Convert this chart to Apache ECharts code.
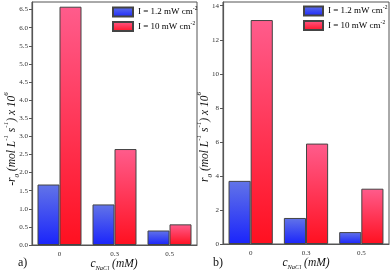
<!DOCTYPE html>
<html><head><meta charset="utf-8">
<script src="https://cdn.jsdelivr.net/npm/echarts@6/dist/echarts.min.js"></script>
<style>html,body{margin:0;padding:0;background:#fff}#c{width:390px;height:273px}</style>
</head><body><div id="c"></div>
<script>
var categories = ['0', '0.3', '0.5'];
var seriesNames = ['I = 1.2 mW cm', 'I = 10 mW cm'];
var leftLow = [1.67, 1.12, 0.40];
var leftHigh = [6.58, 2.65, 0.57];
var rightLow = [3.71, 1.53, 0.70];
var rightHigh = [13.16, 5.90, 3.25];

var serif = 'Liberation Serif';
var blueGrad = {type:'linear',x:0,y:0,x2:0,y2:1,colorStops:[{offset:0,color:'#6274e8'},{offset:1,color:'#1a24fb'}]};
var redGrad = {type:'linear',x:0,y:0,x2:0,y2:1,colorStops:[{offset:0,color:'#ff5c8c'},{offset:1,color:'#ff1020'}]};
var lowStyle = {color: blueGrad, borderColor:'#444', borderWidth:1};
var highStyle = {color: redGrad, borderColor:'#444', borderWidth:1};

var nameRich = {
  t:{fontFamily:serif,fontStyle:'italic',fontSize:11.5,fill:'#111',lineHeight:18},
  sub:{fontFamily:serif,fontStyle:'italic',fontSize:7,fill:'#111',verticalAlign:'bottom'},
  sup:{fontFamily:serif,fontStyle:'italic',fontSize:7,fill:'#111',verticalAlign:'top'}
};
var xNameRich = {
  t:{fontFamily:serif,fontStyle:'italic',fontSize:11.5,fill:'#111',lineHeight:16},
  sub:{fontFamily:serif,fontStyle:'italic',fontSize:6.5,fill:'#111',verticalAlign:'bottom'}
};
var legendRich = {
  a:{fontFamily:serif,fontSize:9,color:'#000',lineHeight:12},
  s:{fontFamily:serif,fontSize:5.5,color:'#000',verticalAlign:'top'}
};

function xAx(gi){
  return {type:'category',gridIndex:gi,data:categories,
    axisLine:{lineStyle:{color:'#555',width:1.2}},
    axisTick:{alignWithLabel:true,length:3,lineStyle:{color:'#555'}},
    axisLabel:{fontFamily:serif,fontSize:7,color:'#333',margin:6}};
}
function yAx(gi,max,interval){
  return {type:'value',gridIndex:gi,min:0,max:max,interval:interval,
    axisLine:{show:true,lineStyle:{color:'#555',width:1.2}},
    axisTick:{show:true,length:3,lineStyle:{color:'#555'}},
    splitLine:{show:false},
    axisLabel:{fontFamily:serif,fontSize:7,color:'#333',margin:4,showMaxLabel:false,
      formatter:function(v){return interval<1? v.toFixed(1): String(v);}}};
}
function legendFmt(name){ return '{a|'+name+'}{s|-2}'; }
function title(x,y,rot,txt,rich){
  return {type:'text',x:x,y:y,rotation:rot,
    style:{text:txt,rich:rich,align:'center',verticalAlign:'middle',fill:'#111'}};
}

var chart = echarts.init(document.getElementById('c'));
chart.setOption({
  animation:false,
  grid:[
    {left:32,top:2,width:165,height:243,show:true,borderColor:'#555',borderWidth:1,outerBoundsMode:'none',containLabel:false},
    {left:223,top:2,width:166,height:242,show:true,borderColor:'#555',borderWidth:1,outerBoundsMode:'none',containLabel:false}
  ],
  xAxis:[xAx(0),xAx(1)],
  yAxis:[yAx(0,6.71,0.5), yAx(1,14.22,2)],
  legend:[
    {left:112,top:6,orient:'vertical',icon:'rect',itemWidth:20,itemHeight:9,itemGap:3,
     data:seriesNames,formatter:legendFmt,textStyle:{rich:legendRich},selectedMode:false,padding:0},
    {left:303,top:5,orient:'vertical',icon:'rect',itemWidth:19,itemHeight:9,itemGap:3,
     data:seriesNames,formatter:legendFmt,textStyle:{rich:legendRich},selectedMode:false,padding:0}
  ],
  series:[
    {type:'bar',name:seriesNames[0],xAxisIndex:0,yAxisIndex:0,data:leftLow,itemStyle:lowStyle,barGap:'0%',barCategoryGap:'20%'},
    {type:'bar',name:seriesNames[1],xAxisIndex:0,yAxisIndex:0,data:leftHigh,itemStyle:highStyle,barGap:'0%',barCategoryGap:'20%'},
    {type:'bar',name:seriesNames[0],xAxisIndex:1,yAxisIndex:1,data:rightLow,itemStyle:lowStyle,barGap:'0%',barCategoryGap:'20%'},
    {type:'bar',name:seriesNames[1],xAxisIndex:1,yAxisIndex:1,data:rightHigh,itemStyle:highStyle,barGap:'0%',barCategoryGap:'20%'}
  ],
  graphic:[
    title(12,139,Math.PI/2,'{t|-r}{sub|0}{t| (mol L}{sup|-1}{t| s}{sup|-1}{t|) x 10}{sup|6}',nameRich),
    title(205,137,Math.PI/2,'{t|r}{sub|0}{t| (mol L}{sup|-1}{t| s}{sup|-1}{t|) x 10}{sup|6}',nameRich),
    title(114,264,0,'{t|c}{sub|NaCl}{t| (mM)}',xNameRich),
    title(306,263,0,'{t|c}{sub|NaCl}{t| (mM)}',xNameRich),
    {type:'text',left:18,top:257,style:{text:'a)',font:'12px "Liberation Serif"',fill:'#111'}},
    {type:'text',left:213,top:257,style:{text:'b)',font:'12px "Liberation Serif"',fill:'#111'}}
  ]
});
</script></body></html>
